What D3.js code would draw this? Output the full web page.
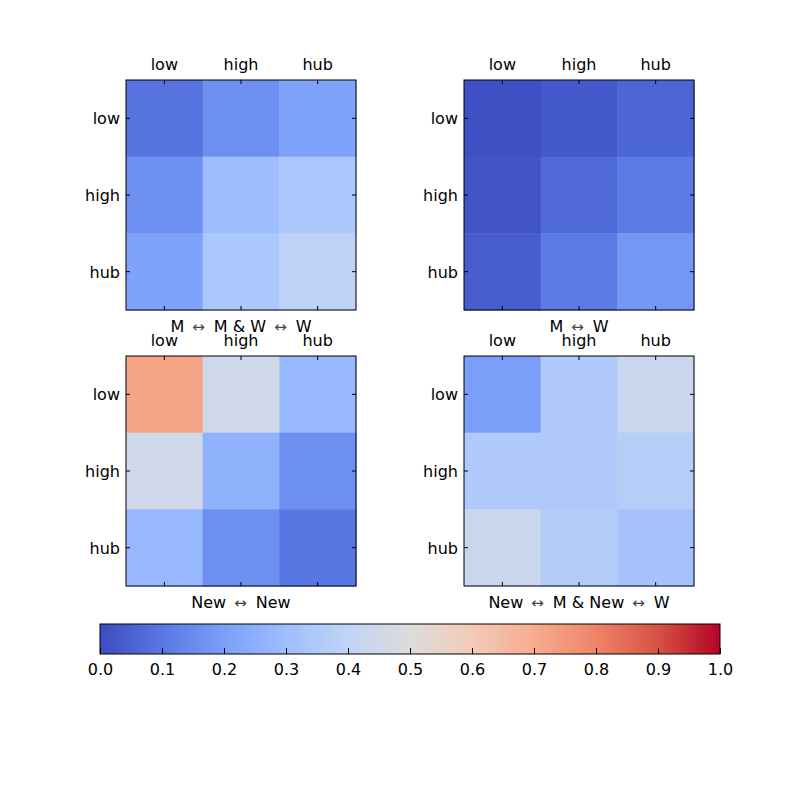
<!DOCTYPE html>
<html><head><meta charset="utf-8">
<script src="https://cdn.jsdelivr.net/npm/d3@7"></script>
<style>body{margin:0;background:#fff}text{font-family:"DejaVu Sans",sans-serif;}</style>
</head><body><svg id="c" width="800" height="800"></svg>
<script>
const categories = ["low", "high", "hub"];
const panelTitles = [
  ["M", "\u2194", "M & W", "\u2194", "W"],
  ["M", "\u2194", "W"],
  ["New", "\u2194", "New"],
  ["New", "\u2194", "M & New", "\u2194", "W"]
];
const valuesMMW = [[0.09,0.16,0.21],[0.16,0.30,0.34],[0.21,0.34,0.39]];
const valuesMW = [[0.01,0.03,0.06],[0.02,0.07,0.11],[0.04,0.11,0.18]];
const valuesNewNew = [[0.72,0.45,0.28],[0.45,0.26,0.16],[0.28,0.16,0.10]];
const valuesNewMW = [[0.20,0.35,0.43],[0.35,0.35,0.37],[0.43,0.36,0.32]];
const colorbarTicks = [0,0.1,0.2,0.3,0.4,0.5,0.6,0.7,0.8,0.9,1.0];

const panels = [valuesMMW, valuesMW, valuesNewNew, valuesNewMW];
const coolwarm = ['#3b4cc0','#5977e3','#7b9ff9','#9ebeff','#c0d4f5','#dddcdc','#f2cbb7','#f7ac8e','#ee8468','#d65244','#b40426'];
const color = d3.scaleLinear().domain(d3.range(11).map(i=>i/10)).range(coolwarm).interpolate(d3.interpolateRgb).clamp(true);

const svg = d3.select("#c");
const origins = [[126,80],[464,80],[126,356],[464,356]];
const size = 230;

panels.forEach((vals, pi) => {
  const [ox, oy] = origins[pi];
  const g = svg.append("g").attr("transform", `translate(${ox},${oy})`);
  const x = d3.scaleBand().domain(categories).range([0,size]);
  const y = d3.scaleBand().domain(categories).range([0,size]);
  const cells = [];
  vals.forEach((row, ri) => row.forEach((v, ci) => cells.push({r:categories[ri], c:categories[ci], v})));
  g.selectAll("rect.cell").data(cells).join("rect").attr("class","cell")
    .attr("x", d=>x(d.c)).attr("y", d=>y(d.r))
    .attr("width", x.bandwidth()+0.5).attr("height", y.bandwidth()+0.5)
    .attr("fill", d=>color(d.v));
  const tl = 4;
  categories.forEach(cat => {
    const cx = x(cat) + x.bandwidth()/2, cy = y(cat) + y.bandwidth()/2;
    g.append("line").attr("x1",cx).attr("x2",cx).attr("y1",0).attr("y2",tl).attr("stroke","#000");
    g.append("line").attr("x1",cx).attr("x2",cx).attr("y1",size).attr("y2",size-tl).attr("stroke","#000");
    g.append("line").attr("x1",0).attr("x2",tl).attr("y1",cy).attr("y2",cy).attr("stroke","#000");
    g.append("line").attr("x1",size).attr("x2",size-tl).attr("y1",cy).attr("y2",cy).attr("stroke","#000");
    g.append("text").attr("x",cx).attr("y",-10).attr("text-anchor","middle").attr("font-size",16).text(cat);
    g.append("text").attr("x",-6).attr("y",cy+6).attr("text-anchor","end").attr("font-size",16).text(cat);
  });
  g.append("rect").attr("width",size).attr("height",size).attr("fill","none").attr("stroke","#000").attr("stroke-width",1);
  const t = g.append("text").attr("x",size/2).attr("y",size+22).attr("text-anchor","middle").attr("font-size",16);
  panelTitles[pi].forEach((part, k) => {
    const ts = t.append("tspan").text(part);
    if (part === "\u2194") ts.attr("font-size",15).attr("fill","#444").attr("dx",8);
    else if (k > 0) ts.attr("dx",9);
  });
});

// colorbar
const cb = {x:100, y:624, w:620, h:30};
const defs = svg.append("defs");
const grad = defs.append("linearGradient").attr("id","cw").attr("x1","0%").attr("x2","100%").attr("y1","0%").attr("y2","0%");
d3.range(0,101).forEach(i => grad.append("stop").attr("offset", i+"%").attr("stop-color", color(i/100)));
const cs = d3.scaleLinear().domain([0,1]).range([cb.x, cb.x+cb.w]);
svg.append("rect").attr("x",cb.x).attr("y",cb.y).attr("width",cb.w).attr("height",cb.h).attr("fill","url(#cw)").attr("stroke","#000");
const axis = d3.axisBottom(cs).tickValues(colorbarTicks).tickFormat(d3.format(".1f")).tickSizeInner(-6).tickSizeOuter(0).tickPadding(10);
const ag = svg.append("g").attr("transform",`translate(0,${cb.y+cb.h})`).call(axis);
ag.select(".domain").remove();
ag.selectAll("text").attr("font-size",16).attr("font-family","DejaVu Sans").attr("fill","#000");
ag.selectAll("line").attr("stroke","#000");
</script></body></html>
